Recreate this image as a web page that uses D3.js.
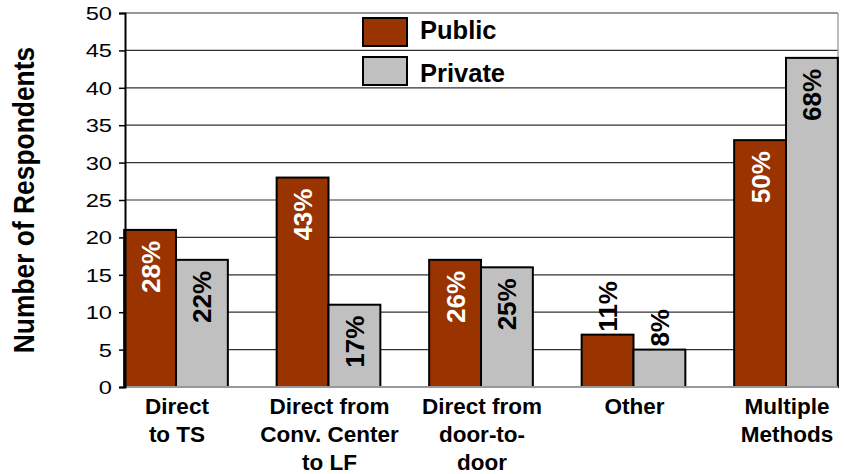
<!DOCTYPE html>
<html><head><meta charset="utf-8">
<script src="https://cdn.jsdelivr.net/npm/d3@7"></script>
<style>body{margin:0;background:#fff}svg{display:block}text{font-family:"Liberation Sans",Arial,sans-serif}</style>
</head><body><svg id="c" width="844" height="474"></svg>
<script>
const categories = [["Direct","to TS"],["Direct from","Conv. Center","to LF"],["Direct from","door-to-","door"],["Other"],["Multiple","Methods"]];
const seriesNames = ["Public","Private"];
const publicValues = [21, 28, 17, 7, 33];
const privateValues = [17, 11, 16, 5, 44];
const publicPct = ["28%","43%","26%","11%","50%"];
const privatePct = ["22%","17%","25%","8%","68%"];
const yTicks = [0,5,10,15,20,25,30,35,40,45,50];
const colors = ["#993300","#C0C0C0"];

const svg = d3.select("#c");
const plotL = 125, plotR = 838, plotT = 13, plotB = 387;
const y = d3.scaleLinear().domain([0,50]).range([plotB, plotT]);
const x = d3.scaleBand().domain(d3.range(categories.length)).range([99.75, 862.25]).paddingInner(0).paddingOuter(0);
const xs = d3.scaleBand().domain([0,1]).range([x.bandwidth()*0.16, x.bandwidth()*0.84]);

// gridlines
svg.append("g").selectAll("line").data(yTicks.filter(d=>d>0)).join("line")
  .attr("x1", plotL).attr("x2", plotR).attr("y1", d=>y(d)).attr("y2", d=>y(d))
  .attr("stroke", "#333").attr("stroke-width", 1.2);
svg.append("line").attr("x1", plotR).attr("x2", plotR).attr("y1", plotT).attr("y2", plotB).attr("stroke","#999").attr("stroke-width",1.3);

// bars
const data = [publicValues, privateValues];
const pcts = [publicPct, privatePct];
data.forEach((vals, s) => {
  svg.append("g").selectAll("rect").data(vals).join("rect")
    .attr("x", (d,i)=>x(i)+xs(s)).attr("width", xs.bandwidth())
    .attr("y", d=>y(d)).attr("height", d=>plotB - y(d))
    .attr("fill", colors[s]).attr("stroke", "#000").attr("stroke-width", 2);
});

// bottom axis line
svg.append("line").attr("x1", plotL).attr("x2", plotR).attr("y1", plotB).attr("y2", plotB).attr("stroke","#999").attr("stroke-width",2);

// y axis
const yAxis = svg.append("g").attr("transform", `translate(${plotL},0)`)
  .call(d3.axisLeft(y).tickValues(yTicks).tickSize(6).tickFormat(()=>""));
yAxis.select(".domain").attr("stroke","#000").attr("stroke-width",2);
yAxis.selectAll(".tick line").attr("stroke","#000").attr("stroke-width",1.5);
yAxis.selectAll(".tick").append("text")
  .attr("transform","translate(-13,0) scale(1.28,1)")
  .attr("text-anchor","end").attr("dy","0.35em")
  .attr("font-size", 18.5).attr("fill","#000").attr("font-family","Liberation Sans, Arial, sans-serif")
  .text(d=>d);

// value labels
data.forEach((vals, s) => {
  vals.forEach((v, i) => {
    const cx = x(i) + xs(s) + xs.bandwidth()/2;
    const inside = v >= 10;
    const top = y(v);
    const ty = inside ? top + 11 : top - 3;
    svg.append("text")
      .attr("transform", `translate(${cx + 9.5},${ty}) rotate(-90)`)
      .attr("text-anchor", inside ? "end" : "start")
      .attr("font-size", 26).attr("font-weight", "bold")
      .attr("fill", (inside && s===0) ? "#fff" : "#000")
      .text(pcts[s][i]);
  });
});

// category labels
categories.forEach((lines, i) => {
  const t = svg.append("text").attr("text-anchor","middle").attr("font-size",22.5).attr("font-weight","bold").attr("fill","#000");
  lines.forEach((ln, j) => {
    t.append("tspan").attr("x", x(i) + x.bandwidth()/2 + 1).attr("y", 413.5 + j*28.3).text(ln);
  });
});

// y title
svg.append("text").attr("transform","translate(33.5,200) rotate(-90) scale(1,1.12)").attr("text-anchor","middle")
  .attr("font-size",26.4).attr("font-weight","bold").attr("fill","#000").text("Number of Respondents");

// legend
const lg = svg.append("g");
seriesNames.forEach((n, s) => {
  const ly = 18 + s*39;
  lg.append("rect").attr("x",363).attr("y",ly).attr("width",44).attr("height",28).attr("fill",colors[s]).attr("stroke","#000").attr("stroke-width",2);
  lg.append("text").attr("x",420).attr("y",38.5 + s*43.5).attr("font-size",25.5).attr("font-weight","bold").attr("fill","#000").text(n);
});
</script></body></html>
